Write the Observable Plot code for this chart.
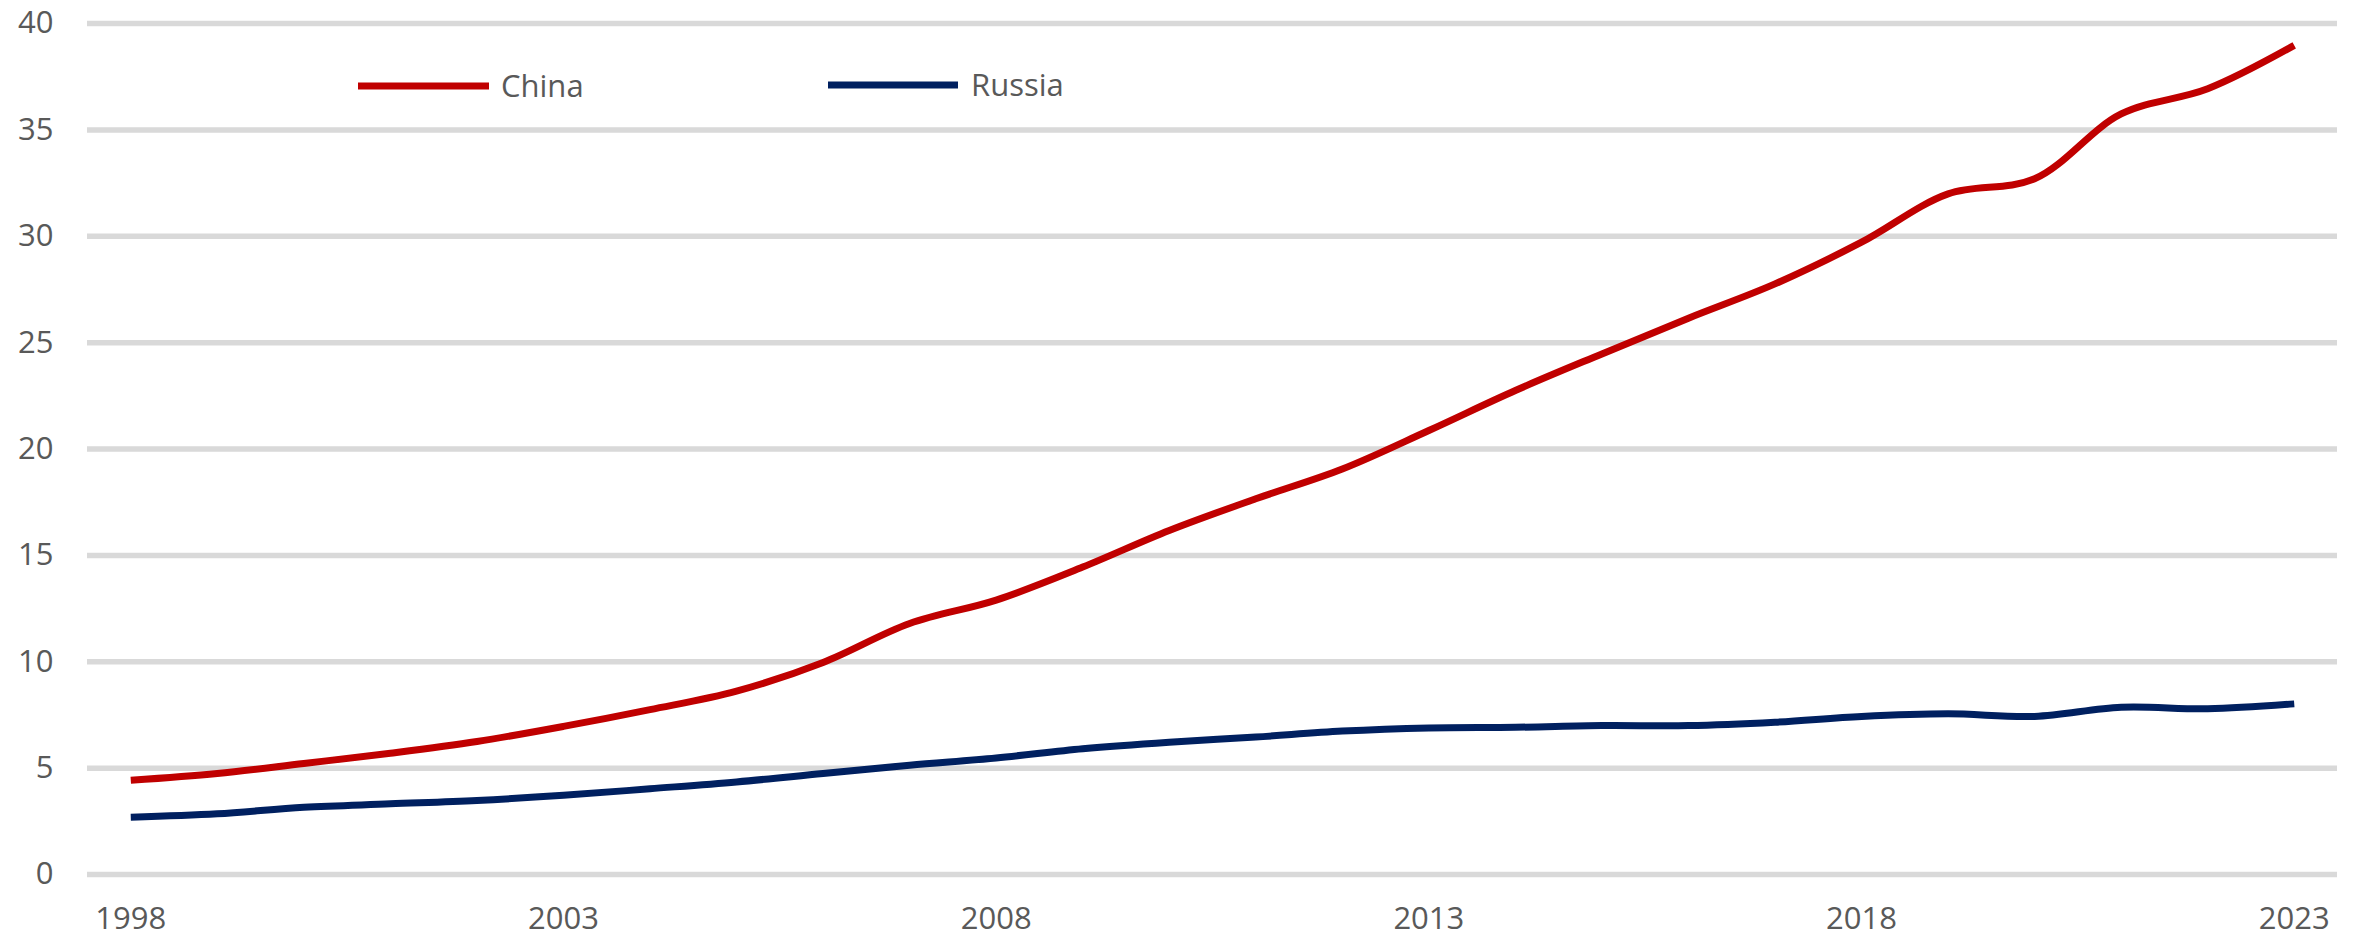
<!DOCTYPE html>
<html>
<head>
<meta charset="utf-8">
<script src="https://cdn.jsdelivr.net/npm/d3@7"></script>
<script src="https://cdn.jsdelivr.net/npm/@observablehq/plot@0.6"></script>
<style>
  html, body { margin: 0; padding: 0; background: #fff; }
  #chart { position: relative; width: 2362px; height: 939px; }
</style>
</head>
<body>
<div id="chart"></div>
<script>
const years = [1998, 1999, 2000, 2001, 2002, 2003, 2004, 2005, 2006, 2007, 2008, 2009, 2010,
               2011, 2012, 2013, 2014, 2015, 2016, 2017, 2018, 2019, 2020, 2021, 2022, 2023];
const china = [4.43, 4.75, 5.22, 5.70, 6.25, 6.96, 7.75, 8.62, 9.97, 11.8, 12.9, 14.45, 16.17,
               17.66, 19.06, 20.87, 22.75, 24.47, 26.15, 27.76, 29.72, 31.99, 32.7, 35.75, 36.93, 38.97];
const russia = [2.69, 2.85, 3.16, 3.32, 3.48, 3.72, 4.03, 4.35, 4.75, 5.14, 5.48, 5.91, 6.22,
                6.46, 6.74, 6.89, 6.92, 7.0, 7.0, 7.16, 7.43, 7.55, 7.43, 7.86, 7.79, 8.02];
const seriesNames = ["China", "Russia"];
const seriesColors = ["#c00000", "#002060"];
const xTicks = [1998, 2003, 2008, 2013, 2018, 2023];
const yTicks = [0, 5, 10, 15, 20, 25, 30, 35, 40];

const rows = [];
years.forEach((yr, i) => {
  rows.push({year: yr, value: china[i], series: "China"});
  rows.push({year: yr, value: russia[i], series: "Russia"});
});

const plot = Plot.plot({
  width: 2362,
  height: 939,
  marginLeft: 87,
  marginRight: 25,
  marginTop: 23,
  marginBottom: 65,
  style: {fontFamily: "'Open Sans', sans-serif", fontSize: "31px", background: "#fff", color: "#595959"},
  x: {domain: [1997.5, 2023.5], ticks: xTicks, tickFormat: d => String(d), tickSize: 0, tickPadding: 32, label: null},
  y: {domain: [0, 40], ticks: yTicks, tickSize: 0, tickPadding: 34, label: null},
  color: {domain: seriesNames, range: seriesColors},
  marks: [
    Plot.ruleY(yTicks, {stroke: "#d9d9d9", strokeWidth: 5.5, strokeOpacity: 1}),
    Plot.axisX({ticks: xTicks, tickFormat: d => String(d), tickSize: 0, tickPadding: 32, fill: "#595959", label: null}),
    Plot.axisY({ticks: yTicks, tickSize: 0, tickPadding: 34, fill: "#595959", label: null}),
    Plot.line(rows, {x: "year", y: "value", z: "series", stroke: "series", strokeWidth: 7, curve: "catmull-rom", strokeLinecap: "butt"})
  ]
});

document.getElementById("chart").appendChild(plot);

// Legend drawn inside the SVG
const svg = d3.select(plot);
const legendItems = [
  {name: "China", color: "#c00000", x1: 358, x2: 489, tx: 501, y: 86},
  {name: "Russia", color: "#002060", x1: 828, x2: 958, tx: 971, y: 85}
];
const lg = svg.append("g").attr("class", "legend").attr("text-anchor", "start");
legendItems.forEach(d => {
  lg.append("line").attr("x1", d.x1).attr("x2", d.x2).attr("y1", d.y).attr("y2", d.y)
    .attr("stroke", d.color).attr("stroke-width", 7);
  lg.append("text").attr("x", d.tx).attr("y", d.y).attr("dy", "0.35em")
    .attr("text-anchor", "start")
    .attr("fill", "#595959").attr("font-size", 31).attr("font-family", "'Open Sans', sans-serif")
    .text(d.name);
});
</script>
</body>
</html>
